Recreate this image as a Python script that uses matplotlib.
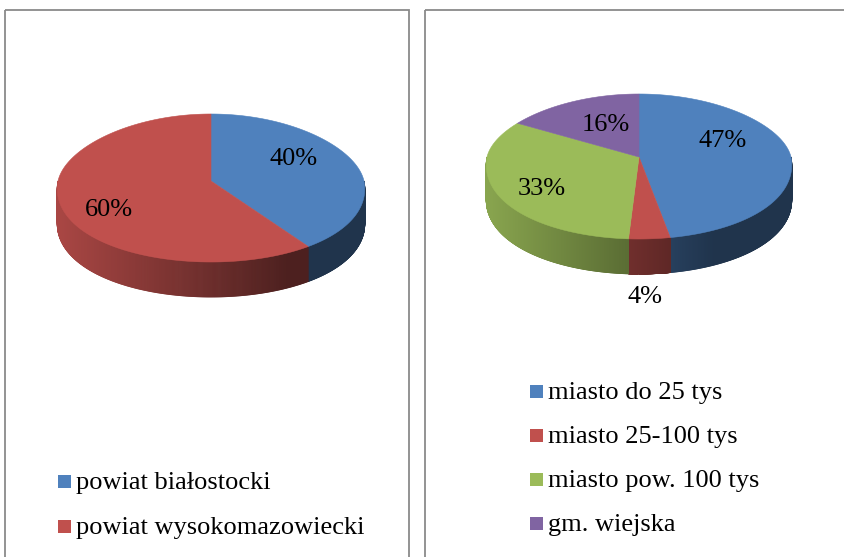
import numpy as np
import matplotlib.pyplot as plt
from matplotlib.patches import Polygon, Rectangle
from matplotlib.collections import PolyCollection
from matplotlib.colors import to_rgb

plt.rcParams['font.family'] = ['Liberation Serif', 'DejaVu Serif']

# data
county_labels = ['powiat białostocki', 'powiat wysokomazowiecki']
county_values = [40, 60]
town_labels = ['miasto do 25 tys', 'miasto 25-100 tys', 'miasto pow. 100 tys', 'gm. wiejska']
town_values = [47, 4, 33, 16]

colors = ['#4F81BD', '#C0504D', '#9BBB59', '#8064A2']

W, H = 844, 557
FS = 19
PERSP = 0.1  # near side drawn a bit wider than far side


def side_shade(x, left, width):
    # excel-like side gradient: light on the left, dark on the right
    t = np.clip((x - left) / (0.75 * width), 0, 1)
    return 0.88 - 0.48 * t


def pie3d(ax, values, cx, cy, a, b_far, b_near, depth, label_r, label_nudge):
    vals = np.asarray(values, float)
    fr = vals / vals.sum()
    edges = 90 - 360 * np.concatenate([[0], np.cumsum(fr)])

    def pt(th):
        t = np.radians(th)
        s = np.sin(t)
        b = np.where(s >= 0, b_far, b_near)
        ae = a * (1 - PERSP * s)
        return cx + ae * np.cos(t), cy - b * s

    # side walls
    polys, cols = [], []
    for i in range(len(vals)):
        th = np.linspace(edges[i], edges[i + 1], 600)
        x, y = pt(th)
        vis = np.sin(np.radians(th)) < 0
        base = np.array(to_rgb(colors[i]))
        for j in range(len(th) - 1):
            if not (vis[j] and vis[j + 1]):
                continue
            polys.append([(x[j], y[j]), (x[j + 1], y[j + 1]),
                          (x[j + 1], y[j + 1] + depth), (x[j], y[j] + depth)])
            cols.append(base * side_shade((x[j] + x[j + 1]) / 2, cx - a, 2 * a))
    ax.add_collection(PolyCollection(polys, facecolors=cols, edgecolors=cols,
                                     linewidths=0.6, zorder=2))

    # top faces
    for i in range(len(vals)):
        th = np.linspace(edges[i], edges[i + 1], 300)
        x, y = pt(th)
        verts = [(cx, cy)] + list(zip(x, y))
        ax.add_patch(Polygon(verts, closed=True, facecolor=colors[i],
                             edgecolor=colors[i], lw=0.4, zorder=3))

    # data labels
    for i in range(len(vals)):
        mid = (edges[i] + edges[i + 1]) / 2
        r = label_r[i]
        lx, ly = pt(mid)
        lx = cx + (lx - cx) * r + label_nudge[i][0]
        ly = cy + (ly - cy) * r + label_nudge[i][1]
        ax.text(lx, ly, f'{vals[i]:.0f}%', fontsize=FS, ha='center', va='center',
                color='black', zorder=5)


def legend(ax, labels, x, base0, step, size=13):
    for i, lab in enumerate(labels):
        yb = base0 + i * step
        ax.add_patch(Rectangle((x, yb - 1 - size), size, size,
                               facecolor=colors[i], edgecolor='none', zorder=4))
        ax.text(x + size + 5, yb, lab, fontsize=FS, ha='left', va='baseline', zorder=5)


fig = plt.figure(figsize=(W / 100, H / 100), dpi=100)
ax = fig.add_axes([0, 0, 1, 1])
ax.set_xlim(0, W)
ax.set_ylim(H, 0)
ax.axis('off')

# panel frames
ax.add_patch(Rectangle((5, 9.5), 404, 600, fill=False, ec='#8a8a8a', lw=1.3, zorder=1))
ax.add_patch(Rectangle((425, 9.5), 500, 600, fill=False, ec='#8a8a8a', lw=1.3, zorder=1))

pie3d(ax, county_values, cx=211, cy=181, a=153, b_far=67, b_near=81, depth=35,
      label_r=[0.585, 0.68], label_nudge=[(0, -10), (0, 12)])
pie3d(ax, town_values, cx=639, cy=157, a=152, b_far=63, b_near=82, depth=35,
      label_r=[0.56, 1.0, 0.69, 0.49], label_nudge=[(0, -13), (-4, 58), (0, 6), (0, -5)])

legend(ax, county_labels, 58, 489, 45)
legend(ax, town_labels, 530, 399, 44)

fig.savefig('out.png', dpi=100)
